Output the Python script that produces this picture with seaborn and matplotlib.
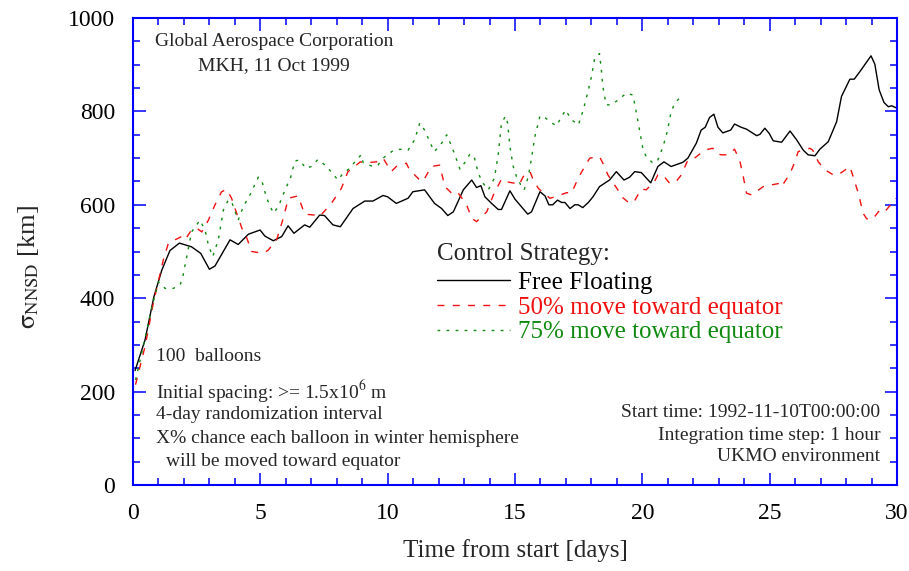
import numpy as np
import pandas as pd
import matplotlib
matplotlib.use("Agg")
import matplotlib.pyplot as plt
import seaborn as sns
from matplotlib.ticker import MultipleLocator

# ---------------- data ----------------
free_days = [0.08, 0.47, 0.82, 1.13, 1.45, 1.82, 2.3, 2.66, 3.0, 3.22, 3.81, 4.13, 4.53, 4.99,
             5.18, 5.51, 5.84, 6.09, 6.32, 6.74, 6.94, 7.33, 7.52, 7.85, 8.14, 8.64, 9.1, 9.42,
             9.82, 10.0, 10.34, 10.8, 10.99, 11.45, 11.84, 12.12, 12.36, 12.58, 12.97, 13.3,
             13.49, 13.66, 13.82, 14.08, 14.34, 14.47, 14.8, 15.0, 15.5, 15.65, 15.98, 16.18,
             16.33, 16.48, 16.67, 16.83, 16.96, 17.16, 17.35, 17.48, 17.66, 17.88, 18.06, 18.32,
             18.71, 18.98, 19.28, 19.5, 19.7, 19.96, 20.33, 20.61, 20.85, 21.13, 21.59, 21.79,
             22.12, 22.31, 22.47, 22.64, 22.81, 22.97, 23.16, 23.47, 23.62, 23.88, 24.09, 24.49,
             24.62, 24.81, 24.98, 25.14, 25.47, 25.8, 26.06, 26.32, 26.51, 26.78, 26.97, 27.3,
             27.63, 27.82, 28.15, 28.32, 28.54, 28.98, 29.13, 29.3, 29.49, 29.66, 29.79, 30.0]
free_vals = [245, 310, 403, 460, 502, 518, 510, 496, 462, 469, 525, 515, 537, 546,
             533, 523, 532, 555, 539, 557, 552, 578, 577, 557, 553, 592, 608, 608,
             620, 617, 603, 614, 628, 632, 603, 592, 577, 585, 632, 653,
             637, 641, 617, 603, 590, 590, 630, 612, 580, 585, 628, 619,
             600, 600, 610, 605, 605, 592, 600, 600, 594, 605, 617, 639,
             653, 671, 653, 659, 671, 669, 647, 682, 692, 682, 691, 700,
             732, 760, 766, 787, 794, 766, 754, 760, 773, 766, 762, 748,
             751, 764, 753, 737, 734, 758, 739, 717, 707, 705, 719, 735,
             778, 832, 869, 869, 885, 919, 901, 846, 819, 810, 812, 807]

half_days = [0.1, 0.47, 0.8, 1.19, 1.39, 1.91, 2.04, 2.3, 2.5, 2.7, 2.96, 3.22, 3.48, 3.68,
             3.87, 4.07, 4.3, 4.46, 4.66, 5.12, 5.31, 5.64, 5.9, 6.1, 6.48, 6.74, 7.13, 7.33,
             7.79, 8.18, 8.44, 8.93, 9.1, 9.56, 9.82, 10.14, 10.34, 10.73, 10.86, 11.26, 11.39,
             11.71, 12.04, 12.25, 12.58, 12.77, 13.1, 13.3, 13.49, 13.89, 14.15, 14.47, 14.6,
             15.0, 15.15, 15.39, 15.59, 15.72, 15.92, 16.37, 16.57, 17.03, 17.22, 17.48, 17.81,
             17.94, 18.32, 18.45, 18.65, 18.78, 19.04, 19.11, 19.5, 19.7, 19.96, 20.15, 20.48,
             20.61, 20.81, 21.07, 21.33, 21.53, 21.79, 22.05, 22.38, 22.58, 22.77, 22.9, 23.1,
             23.36, 23.62, 23.82, 23.95, 24.09, 24.29, 24.75, 25.01, 25.4, 25.47, 25.8, 25.99,
             26.12, 26.58, 26.69, 26.91, 27.17, 27.5, 27.69, 28.15, 28.28, 28.48, 28.67, 28.81,
             29.04, 29.33, 29.52, 29.96]
half_vals = [215, 296, 390, 482, 518, 532, 525, 546, 550, 542, 567, 600, 628, 633,
             614, 582, 546, 530, 500, 496, 503, 525, 571, 614, 619, 580, 578, 575,
             603, 635, 671, 692, 690, 692, 700, 671, 682, 689, 675, 653, 650,
             682, 685, 639, 621, 625, 600, 571, 564, 585, 621, 655, 650,
             646, 642, 667, 671, 653, 635, 614, 617, 626, 625, 657, 689,
             700, 703, 689, 664, 653, 632, 621, 603, 609, 634, 632, 650,
             664, 664, 646, 650, 664, 696, 700, 714, 719, 721, 710, 707,
             707, 719, 696, 664, 625, 621, 639, 642, 646, 639, 667, 692,
             714, 721, 717, 692, 675, 664, 664, 682, 660, 625, 582, 570,
             569, 589, 585, 614]

q75_days = [0.1, 0.4, 0.73, 1.0, 1.26, 1.58, 1.85, 1.97, 2.11, 2.3, 2.63, 2.83, 2.96, 3.13,
            3.35, 3.55, 3.74, 3.87, 4.13, 4.33, 4.59, 4.92, 5.05, 5.25, 5.51, 5.71, 5.97, 6.18,
            6.28, 6.37, 6.55, 6.78, 7.0, 7.26, 7.59, 7.85, 8.05, 8.24, 8.51, 8.77, 8.96, 9.04,
            9.42, 9.62, 9.82, 10.21, 10.5, 10.8, 11.06, 11.26, 11.45, 11.71, 11.84, 12.12,
            12.32, 12.49, 12.64, 12.84, 13.1, 13.23, 13.4, 13.56, 13.75, 13.95, 14.19, 14.34,
            14.47, 14.63, 14.71, 14.8, 14.93, 15.06, 15.26, 15.36, 15.52, 15.65, 15.78, 15.98,
            16.11, 16.37, 16.63, 16.83, 16.99, 17.2, 17.49, 17.68, 17.85, 18.0, 18.13, 18.32,
            18.39, 18.45, 18.58, 18.78, 19.04, 19.37, 19.63, 19.76, 19.89, 20.02, 20.15, 20.42,
            20.61, 20.81, 20.98, 21.13, 21.27, 21.45]
q75_vals = [225, 296, 378, 435, 421, 421, 428, 450, 489, 542, 567, 546, 514, 489,
            525, 589, 610, 607, 567, 596, 621, 659, 653, 614, 582, 596, 632, 657,
            678, 694, 696, 678, 682, 697, 683, 666, 653, 667, 678, 696, 707, 690,
            682, 685, 700, 716, 719, 717, 739, 775, 760, 728, 714, 732,
            750, 728, 707, 676, 696, 709, 702, 667, 646, 632, 657, 707,
            775, 790, 775, 725, 682, 660, 639, 632, 660, 700, 746, 790,
            790, 778, 769, 789, 803, 783, 771, 803, 839, 874, 914, 924,
            889, 853, 814, 814, 824, 839, 835, 799, 760, 721, 703, 689,
            696, 724, 757, 799, 817, 828]

labels = ["Free Floating", "50% move toward equator", "75% move toward equator"]
colors = ["black", "#f01010", "#108a10"]

# ---------------- figure ----------------
sns.set_style("ticks")
plt.rcParams["font.family"] = ["Liberation Serif", "DejaVu Serif"]
plt.rcParams["mathtext.fontset"] = "stix"

fig = plt.figure(figsize=(9.09, 5.71), dpi=100)
ax = fig.add_axes([133 / 909, 86 / 571, 764 / 909, 467 / 571])

sns.lineplot(x=free_days, y=free_vals, ax=ax, color=colors[0], linewidth=1.0,
             label=labels[0], estimator=None)
sns.lineplot(x=half_days, y=half_vals, ax=ax, color=colors[1], linewidth=1.0,
             linestyle=(0, (5, 6)), label=labels[1], estimator=None)
sns.lineplot(x=q75_days, y=q75_vals, ax=ax, color=colors[2], linewidth=1.0,
             linestyle=(0, (2, 4.5)), label=labels[2], estimator=None)

ax.set_xlim(0, 30)
ax.set_ylim(0, 1000)
ax.xaxis.set_major_locator(MultipleLocator(5))
ax.xaxis.set_minor_locator(MultipleLocator(1))
ax.yaxis.set_major_locator(MultipleLocator(200))
ax.yaxis.set_minor_locator(MultipleLocator(50))

for sp in ax.spines.values():
    sp.set_visible(True)
    sp.set_color("blue")
    sp.set_linewidth(1.5)
ax.tick_params(which="both", direction="in", top=True, right=True, color="blue",
               width=1.1, labelcolor="black", labelsize=17)
ax.tick_params(which="major", length=9)
ax.tick_params(which="minor", length=5)
ax.tick_params(axis="x", pad=13)
ax.tick_params(axis="y", pad=13)

ax.set_xlabel("Time from start [days]", fontsize=18)
ax.set_ylabel(r"$\mathrm{\sigma}_{\mathrm{NNSD}}$ [km]", fontsize=19)
ax.xaxis.set_label_coords(0.5, -0.115)
ax.yaxis.set_label_coords(-0.12, 0.467)

leg = ax.legend(loc="upper left", bbox_to_anchor=(0.398, 0.518), frameon=False,
                title="Control Strategy:", alignment="left", fontsize=18,
                title_fontsize=18, handlelength=2.9, handletextpad=0.32,
                labelspacing=0.09, borderpad=0, borderaxespad=0,
                labelcolor="linecolor")
leg._legend_box.sep = 4.5

fs = 14
tr = ax.transAxes
ax.text(0.1846, 0.949, "Global Aerospace Corporation", transform=tr, ha="center",
        va="center", fontsize=fs)
ax.text(0.1846, 0.898, "MKH, 11 Oct 1999", transform=tr, ha="center", va="center",
        fontsize=fs)
ax.text(0.0301, 0.2747, "100  balloons", transform=tr, ha="left", va="center", fontsize=fs)
ax.text(0.0301, 0.1998, r"Initial spacing: >= 1.5x10$^6$ m", transform=tr, ha="left",
        va="center", fontsize=fs)
ax.text(0.0301, 0.1500, "4-day randomization interval", transform=tr, ha="left",
        va="center", fontsize=fs)
ax.text(0.0301, 0.0990, "X% chance each balloon in winter hemisphere", transform=tr,
        ha="left", va="center", fontsize=fs)
ax.text(0.0432, 0.050, "will be moved toward equator", transform=tr, ha="left",
        va="center", fontsize=fs)
ax.text(0.9784, 0.1560, "Start time: 1992-11-10T00:00:00", transform=tr, ha="right",
        va="center", fontsize=fs)
ax.text(0.9784, 0.1065, "Integration time step: 1 hour", transform=tr, ha="right",
        va="center", fontsize=fs)
ax.text(0.9784, 0.0615, "UKMO environment", transform=tr, ha="right", va="center",
        fontsize=fs)

fig.savefig("out.png", dpi=100)
